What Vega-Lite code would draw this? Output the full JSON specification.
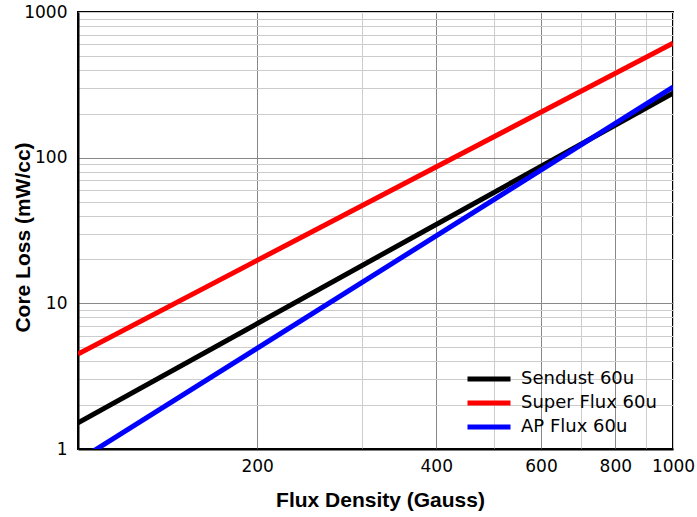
{
  "$schema": "https://vega.github.io/schema/vega-lite/v6.json",
  "width": 595,
  "height": 437,
  "autosize": {"type": "none"},
  "padding": {"left": 78, "top": 12, "right": 24, "bottom": 68},
  "background": "white",
  "config": {
    "view": {"stroke": "black", "strokeWidth": 2},
    "axis": {
      "labelFont": "DejaVu Sans",
      "labelFontSize": 17,
      "labelColor": "#000",
      "titleFont": "Liberation Sans",
      "titleFontSize": 21,
      "titleFontWeight": "bold",
      "titleColor": "#000",
      "domainColor": "black",
      "domainWidth": 2,
      "ticks": false,
      "gridWidth": 1
    }
  },
  "data": {
    "values": [
      {"series": "Sendust 60u", "flux": 100, "loss": 1.51},
      {"series": "Sendust 60u", "flux": 1000, "loss": 277},
      {"series": "Super Flux 60u", "flux": 100, "loss": 4.49},
      {"series": "Super Flux 60u", "flux": 1000, "loss": 611},
      {"series": "AP Flux 60u", "flux": 100, "loss": 0.83},
      {"series": "AP Flux 60u", "flux": 1000, "loss": 305}
    ]
  },
  "mark": {"type": "line", "strokeWidth": 5, "clip": true},
  "encoding": {
    "x": {
      "field": "flux",
      "type": "quantitative",
      "scale": {"type": "log", "domain": [100, 1000], "nice": false},
      "axis": {
        "title": "Flux Density (Gauss)",
        "values": [100, 200, 300, 400, 500, 600, 700, 800, 900, 1000],
        "labelExpr": "indexof([200,400,600,800,1000], datum.value) >= 0 ? datum.value : ''",
        "labelPadding": 9,
        "labelFlush": false,
        "labelOverlap": false,
        "gridColor": {"condition": {"test": "indexof([200,400,600,800], datum.value) >= 0", "value": "#888888"}, "value": "#cccccc"},
        "titleX": 302,
        "titleY": 51,
        "titleBaseline": "middle"
      }
    },
    "y": {
      "field": "loss",
      "type": "quantitative",
      "scale": {"type": "log", "domain": [1, 1000], "nice": false},
      "axis": {
        "title": "Core Loss (mW/cc)",
        "values": [1, 2, 3, 4, 5, 6, 7, 8, 9, 10, 20, 30, 40, 50, 60, 70, 80, 90, 100, 200, 300, 400, 500, 600, 700, 800, 900, 1000],
        "labelExpr": "indexof([1,10,100,1000], datum.value) >= 0 ? datum.value : ''",
        "labelPadding": 11,
        "labelFlush": false,
        "labelOverlap": false,
        "gridColor": {"condition": {"test": "indexof([10,100], datum.value) >= 0", "value": "#888888"}, "value": "#cccccc"},
        "titleX": -55,
        "titleY": 225,
        "titleBaseline": "middle"
      }
    },
    "color": {
      "field": "series",
      "type": "nominal",
      "scale": {"domain": ["Sendust 60u", "Super Flux 60u", "AP Flux 60u"], "range": ["#000000", "#ff0000", "#0000ff"]},
      "legend": {
        "title": null,
        "orient": "none",
        "legendX": 387,
        "legendY": 355,
        "padding": 0,
        "symbolType": "stroke",
        "symbolSize": 1849,
        "symbolStrokeWidth": 5,
        "clipHeight": 24,
        "rowPadding": 0,
        "labelFont": "DejaVu Sans",
        "labelFontSize": 18,
        "labelColor": "#000",
        "labelOffset": 8
      }
    }
  }
}
